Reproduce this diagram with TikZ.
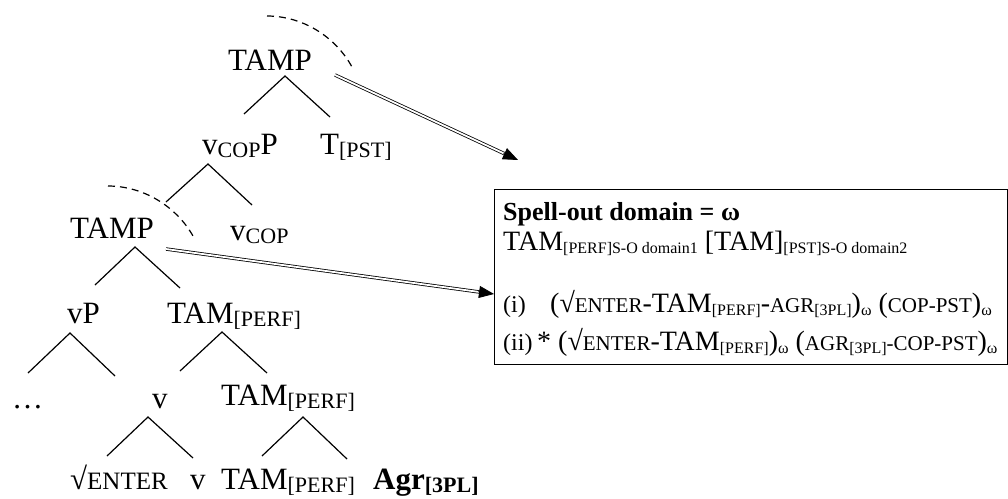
\documentclass[tikz,border=0pt]{standalone}
\usepackage{fontspec}
\setmainfont{Liberation Serif}
\usetikzlibrary{arrows.meta,calc}
\newcommand\treefont{\fontsize{31}{31}\selectfont}
\newcommand\boxfont{\fontsize{28}{28}\selectfont}
\newcommand\tsub[1]{\raisebox{-3pt}{\fontsize{22}{22}\selectfont #1}}
\newcommand\bsub[2][16]{\raisebox{-3pt}{\fontsize{#1}{#1}\selectfont #2}}
\newcommand\bsc[1]{{\fontsize{21}{21}\selectfont #1}}

\begin{document}
\begin{tikzpicture}[x=1pt,y=-1pt,
        lab/.style={anchor=base west,inner sep=0pt,font=\treefont},
        txt/.style={anchor=base west,inner sep=0pt,font=\boxfont},
        branch/.style={line width=1.2pt},
        spell/.style={line width=1.2pt,dash pattern=on 7pt off 5pt},
        dbl/.style={double,double distance=1.8pt,line width=0.8pt},
        head/.style={-{Triangle[length=15pt,width=12pt]},line width=0.8pt}]
        \useasboundingbox (0,0) rectangle (1008,498);
        \node[lab] at (228,70) (tamp1) {TAMP};
        \node[lab] at (202,154) (vcopp) {v\tsub{COP}P};
        \node[lab] at (320,154) (tpst) {T\tsub{[PST]}};
        \coordinate (tamp1-b) at (285,76);
        \coordinate (tamp1-l) at (244,114);
        \coordinate (tamp1-r) at (330,117);
        \draw[branch] (tamp1-l) -- (tamp1-b) -- (tamp1-r);
        \coordinate (tamp1-s) at (267,16);
        \coordinate (tamp1-e) at (352,67);
        \draw[spell] (tamp1-s) .. controls (302,16) and (335,36) .. (tamp1-e);
        \node[lab] at (70,238) (tamp2) {TAMP};
        \node[lab] at (230,240) (vcop) {v\tsub{COP}};
        \coordinate (vcopp-b) at (208,164);
        \coordinate (vcopp-l) at (166,202);
        \coordinate (vcopp-r) at (252,205);
        \draw[branch] (vcopp-l) -- (vcopp-b) -- (vcopp-r);
        \coordinate (tamp2-s) at (108,186);
        \coordinate (tamp2-e) at (193,236);
        \draw[spell] (tamp2-s) .. controls (143,186) and (176,206) .. (tamp2-e);
        \node[lab] at (67,323) (vp) {vP};
        \node[lab] at (167,323) (tam1) {TAM\tsub{[PERF]}};
        \coordinate (tamp2-b) at (135,247);
        \coordinate (tamp2-l) at (95,285);
        \coordinate (tamp2-r) at (180,288);
        \draw[branch] (tamp2-l) -- (tamp2-b) -- (tamp2-r);
        \node[lab] at (12,408) (dots) {\ldots};
        \node[lab] at (152,408) (v1) {v};
        \node[lab] at (221,405) (tam2) {TAM\tsub{[PERF]}};
        \coordinate (vp-b) at (70,333);
        \coordinate (vp-l) at (28,373);
        \coordinate (vp-r) at (115,376);
        \draw[branch] (vp-l) -- (vp-b) -- (vp-r);
        \coordinate (tam1-b) at (222,332);
        \coordinate (tam1-l) at (180,371);
        \coordinate (tam1-r) at (267,373);
        \draw[branch] (tam1-l) -- (tam1-b) -- (tam1-r);
        \node[lab] at (70,489) (root) {√{\fontsize{25}{25}\selectfont ENTER}};
        \node[lab] at (190,489) (v2) {v};
        \node[lab] at (221,489) (tam3) {TAM\tsub{[PERF]}};
        \node[lab] at (373,489) (agr) {\bfseries Agr\tsub{[3PL]}};
        \coordinate (v1-b) at (148,417);
        \coordinate (v1-l) at (107,456);
        \coordinate (v1-r) at (193,458);
        \draw[branch] (v1-l) -- (v1-b) -- (v1-r);
        \coordinate (tam2-b) at (303,417);
        \coordinate (tam2-l) at (262,456);
        \coordinate (tam2-r) at (347,459);
        \draw[branch] (tam2-l) -- (tam2-b) -- (tam2-r);
        \node[draw,line width=1.2pt,anchor=north west,minimum width=513pt,minimum height=175pt,inner sep=0pt] at (494,189) (sobox) {};
        \node[txt,font=\bfseries\fontsize{26}{26}\selectfont] at (503,220) (title) {Spell-out domain = ω};
        \node[txt] at (503,250) (dom) {TAM\bsub{[PERF]S-O domain1} [TAM]\bsub{[PST]S-O domain2}};
        \node[txt,font=\fontsize{24}{24}\selectfont] at (503,312) (ex1) {(i)};
        \node[txt] at (550,312) (form1) {(√\bsc{ENTER}-TAM\bsub{[PERF]}-\bsc{AGR}\bsub{[3PL]})\bsub{ω} (\bsc{COP-PST})\bsub{ω}};
        \node[txt,font=\fontsize{24}{24}\selectfont] at (503,350) (ex2) {(ii)};
        \node[txt] at (537,350) (form2) {* (√\bsc{ENTER}-TAM\bsub{[PERF]})\bsub{ω} (\bsc{AGR}\bsub{[3PL]}\bsc{-COP-PST})\bsub{ω}};
        \coordinate (out1) at (335,75);
        \coordinate (in1) at (518,160);
        \draw[dbl] (out1) -- ($(in1)!14pt!(out1)$);
        \draw[head] ($(in1)!16pt!(out1)$) -- (in1);
        \coordinate (out2) at (166,249);
        \coordinate (in2) at ($(sobox.north west)+(0,105)$);
        \draw[dbl] (out2) -- ($(in2)!14pt!(out2)$);
        \draw[head] ($(in2)!16pt!(out2)$) -- (in2);
    \end{tikzpicture}
\end{document}
